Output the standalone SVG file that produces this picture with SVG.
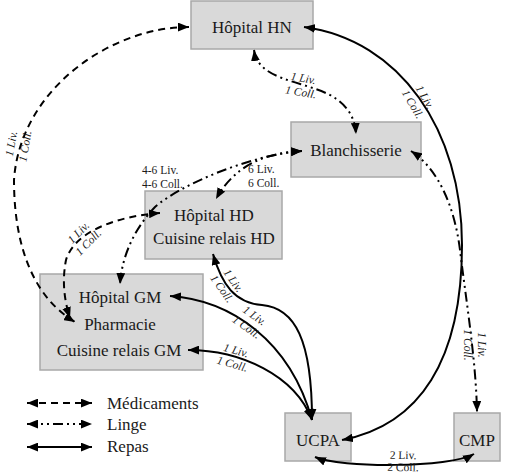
<svg xmlns="http://www.w3.org/2000/svg" width="511" height="473" viewBox="0 0 511 473">
<style>
.box{fill:#d9d9d9;stroke:#a8a8a8;stroke-width:1.5}
.t{font-family:"Liberation Serif","Times New Roman",serif;font-size:17px;fill:#1a1a1a;text-anchor:middle}
.lg{font-family:"Liberation Serif","Times New Roman",serif;font-size:17px;fill:#1a1a1a}
.s{font-family:"Liberation Serif","Times New Roman",serif;font-size:11.5px;font-style:italic;fill:#1a1a1a;text-anchor:middle}
.su{font-family:"Liberation Serif","Times New Roman",serif;font-size:11.5px;fill:#1a1a1a;text-anchor:middle}
.s0{font-family:"Liberation Serif","Times New Roman",serif;font-size:11.5px;fill:#1a1a1a}
.c{fill:none;stroke:#000;stroke-width:2;marker-start:url(#ah);marker-end:url(#ah)}
.med{stroke-dasharray:7 5}
.lin{stroke-dasharray:10 4 2 4 2 4}
</style>
<defs>
<marker id="ah" viewBox="0 0 10 8" refX="10" refY="4" markerWidth="11" markerHeight="9" markerUnits="userSpaceOnUse" orient="auto-start-reverse">
<path d="M0,0 L10,4 L0,8 z" fill="#000"/>
</marker>
</defs>
<rect width="511" height="473" fill="#fff"/>
<g id="hn"><rect class="box" x="191" y="1" width="122" height="48"/><text class="t" x="252" y="33">Hôpital HN</text></g>
<g id="blanchisserie"><rect class="box" x="291" y="122" width="130" height="55"/><text class="t" x="356" y="156">Blanchisserie</text></g>
<g id="hd"><rect class="box" x="145" y="191" width="137" height="68"/><text class="t" x="214" y="221">Hôpital HD</text><text class="t" x="214" y="244">Cuisine relais HD</text></g>
<g id="gm"><rect class="box" x="40" y="274" width="163" height="96"/><text class="t" x="120" y="303">Hôpital GM</text><text class="t" x="120" y="330">Pharmacie</text><text class="t" x="119" y="356">Cuisine relais GM</text></g>
<g id="ucpa"><rect class="box" x="285" y="413" width="66" height="48"/><text class="t" x="318" y="446">UCPA</text></g>
<g id="cmp"><rect class="box" x="454" y="413" width="46" height="48"/><text class="t" x="477" y="446">CMP</text></g>
<g id="connectors">
<path class="c med" d="M189,27 C110,27 20,90 14,180 C14,240 30,295 75,322"/>
<path class="c med" d="M160,213 C120,216 75,230 66,260 C62,280 64,300 70,318"/>
<path class="c lin" d="M254,50 C258,80 300,80 330,95 C348,105 355,118 356,134"/>
<path class="c lin" d="M302,151 C265,153 235,165 216,199"/>
<path class="c lin" d="M302,151 C250,155 180,185 155,207 C135,228 122,255 120,284"/>
<path class="c lin" d="M411,151 C440,170 455,210 460,250 C466,300 476,360 477,412"/>
<path class="c" d="M304,27 C400,40 462,130 462,245 C462,360 420,425 342,440"/>
<path class="c" d="M315,457 C340,468 450,468 474,454"/>
<path class="c" d="M213,254 C222,285 235,303 262,305 C295,308 312,340 312,420"/>
<path class="c" d="M170,296 C230,300 290,340 312,420"/>
<path class="c" d="M188,350 C240,350 295,375 312,420"/>
</g>
<g id="labels">
<g transform="translate(418,101) rotate(60)"><text class="s" y="-4">1 Liv.</text><text class="s" y="10">1 Coll.</text></g>
<g transform="translate(302,86) rotate(10)"><text class="s" y="-4">1 Liv.</text><text class="s" y="10">1 Coll.</text></g>
<g transform="translate(19,145) rotate(-80)"><text class="s" y="-4">1 Liv.</text><text class="s" y="10">1 Coll.</text></g>
<g transform="translate(84,238) rotate(-45)"><text class="s" y="-4">1 Liv.</text><text class="s" y="10">1 Coll.</text></g>
<g transform="translate(474,345) rotate(90)"><text class="s" y="-4">1 Liv.</text><text class="s" y="10">1 Coll.</text></g>
<g transform="translate(227,285) rotate(55)"><text class="s" y="-4">1 Liv.</text><text class="s" y="10">1 Coll.</text></g>
<g transform="translate(250,322) rotate(35)"><text class="s" y="-4">1 Liv.</text><text class="s" y="10">1 Coll.</text></g>
<g transform="translate(234,358) rotate(15)"><text class="s" y="-4">1 Liv.</text><text class="s" y="10">1 Coll.</text></g>
<g transform="translate(403,463) rotate(1)"><text class="su" y="-4">2 Liv.</text><text class="su" y="8">2 Coll.</text></g>
<text class="s0" x="142" y="174">4-6 Liv.</text><text class="s0" x="142" y="188">4-6 Coll.</text>
<text class="s0" x="248" y="173">6 Liv.</text><text class="s0" x="248" y="187">6 Coll.</text>
</g>
<g id="legend">
<path class="c med" d="M27,403 L92,403"/>
<path class="c lin" d="M27,424 L92,424"/>
<path class="c" d="M27,447 L92,447"/>
<text class="lg" x="107" y="409">Médicaments</text>
<text class="lg" x="107" y="430">Linge</text>
<text class="lg" x="107" y="452">Repas</text>
</g>
</svg>
